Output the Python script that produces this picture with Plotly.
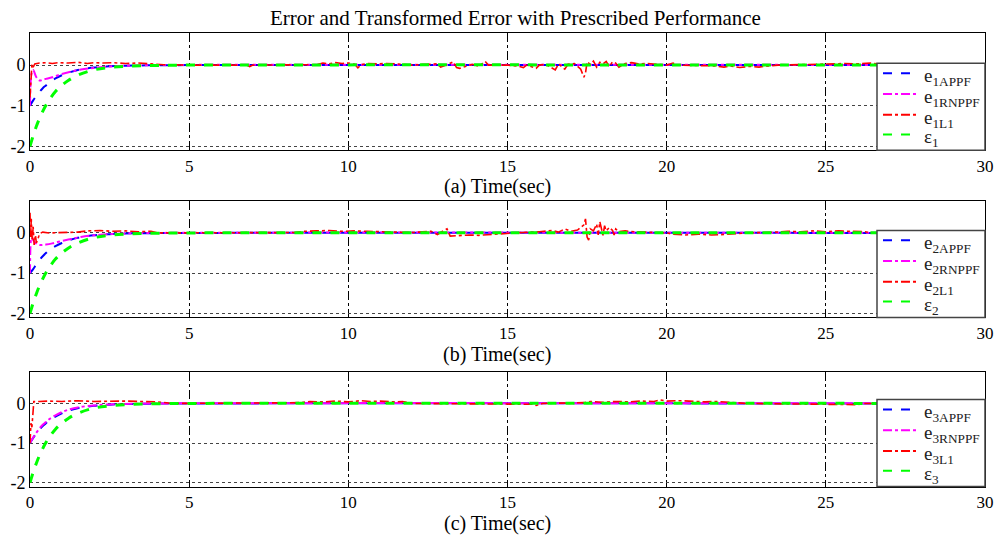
import plotly.graph_objects as go
from plotly.subplots import make_subplots

# ---- time grid for the smooth transients ----
T_SMOOTH = [0, 0.1, 0.2, 0.3, 0.4, 0.5, 0.6, 0.8, 1.0, 1.2, 1.5, 2.0, 2.5, 3.0, 3.5, 4.0, 5.0, 30.0]

# APPF errors e_iAPPF
E1_APPF = [-1, -0.87, -0.76, -0.66, -0.57, -0.50, -0.43, -0.33, -0.25, -0.19, -0.12, -0.06, -0.03, -0.015, -0.008, -0.004, 0, 0]
E2_APPF = [-1, -0.90, -0.78, -0.67, -0.58, -0.50, -0.43, -0.33, -0.25, -0.19, -0.12, -0.06, -0.03, -0.015, -0.008, -0.004, 0, 0]
E3_APPF = [-1, -0.87, -0.76, -0.66, -0.57, -0.50, -0.43, -0.33, -0.25, -0.19, -0.12, -0.06, -0.03, -0.015, -0.008, -0.004, 0, 0]

# transformed errors epsilon_i
EPS = [-2, -1.74, -1.51, -1.31, -1.14, -0.99, -0.86, -0.65, -0.50, -0.38, -0.25, -0.12, -0.06, -0.03, -0.015, -0.008, 0, 0]

# RNPPF errors e_iRNPPF
T_RN = [0, 0.05, 0.1, 0.2, 0.3, 0.4, 0.5, 0.7, 1.0, 1.3, 1.6, 2.0, 2.5, 3.0, 4.0, 30.0]
E1_RN = [-1, -0.2, -0.12, -0.3, -0.38, -0.36, -0.34, -0.30, -0.22, -0.16, -0.11, -0.07, -0.035, -0.015, 0, 0]
E2_RN = [-1, -0.1, -0.18, -0.27, -0.30, -0.30, -0.29, -0.26, -0.20, -0.15, -0.10, -0.06, -0.03, -0.012, 0, 0]
T_RN3 = [0, 0.1, 0.2, 0.3, 0.4, 0.5, 0.6, 0.8, 1.0, 1.2, 1.5, 2.0, 2.5, 3.0, 4.0, 30.0]
E3_RN = [-1, -0.86, -0.74, -0.63, -0.54, -0.47, -0.40, -0.30, -0.22, -0.16, -0.10, -0.05, -0.025, -0.012, 0, 0]

# L1 adaptive errors e_iL1
T_L1_1 = [0, 0.03, 0.06, 0.1, 0.15, 0.3, 0.5, 0.7, 0.9, 1.2, 1.5, 1.8, 2.0, 2.3, 2.6, 3.0, 3.4, 3.8, 4.2, 5.0,
          6.8, 6.9, 7.0, 9.0, 9.2, 9.4, 9.6, 9.8, 10.0, 10.2, 10.3, 10.4, 10.6, 10.9, 11.2, 11.5, 11.8, 12.0,
          12.8, 12.9, 13.1, 13.3, 13.4, 13.5, 13.7, 13.9, 14.1, 14.3, 14.4, 15.0, 15.3, 15.5, 15.6, 15.9, 16.0,
          16.2, 16.5, 16.6, 16.8, 16.9, 17.1, 17.3, 17.4, 17.45, 17.5, 17.6, 17.7, 17.8, 17.9, 18.0, 18.1, 18.2,
          18.3, 18.4, 18.5, 18.7, 18.9, 19.1, 19.4, 19.7, 20.0, 20.2, 20.3, 21.5, 21.8, 22.0, 22.3, 22.6, 22.9,
          23.2, 23.5, 25.3, 25.6, 26.0, 26.4, 26.7, 27.0, 30.0]
E1_L1 = [-0.8, -0.35, 0.02, -0.05, 0.03, 0.05, 0.06, 0.04, 0.06, 0.05, 0.07, 0.04, 0.06, 0.05, 0.06, 0.04, 0.05, 0.03, 0.01, 0.0,
         0.0, -0.04, 0.0, 0.01, 0.05, 0.03, 0.06, 0.04, 0.05, 0.02, -0.07, 0.01, 0.04, 0.03, 0.04, 0.03, 0.02, 0.0,
         0.03, -0.05, 0.01, 0.08, -0.06, -0.08, -0.03, 0.02, -0.03, 0.09, 0.0, 0.0, -0.02, -0.06, 0.0, -0.08, 0.0,
         0.02, -0.12, 0.03, -0.10, 0.02, 0.04, -0.10, -0.30, -0.20, 0.08, 0.02, 0.10, -0.05, 0.07, 0.03, 0.09, -0.04,
         0.08, 0.05, -0.05, 0.04, 0.06, 0.03, 0.04, 0.02, 0.0, 0.05, 0.0, -0.02, -0.05, -0.02, -0.06, -0.03, -0.05,
         -0.02, 0.0, 0.03, 0.04, 0.03, 0.05, 0.02, 0.0, 0.0]

T_L1_2 = [0, 0.02, 0.04, 0.07, 0.1, 0.13, 0.17, 0.2, 0.25, 0.3, 0.4, 0.6, 1.5, 1.8, 2.2, 2.6, 3.0, 3.4, 3.8, 4.0,
          8.3, 8.6, 9.0, 9.4, 9.8, 10.2, 10.6, 11.0, 11.4, 12.0, 12.6, 12.8, 13.0, 13.1, 13.2, 13.5, 13.8, 14.1,
          14.4, 14.8, 15.2, 16.0, 16.4, 16.6, 16.8, 17.0, 17.2, 17.4, 17.45, 17.5, 17.55, 17.6, 17.7, 17.8, 17.85,
          17.9, 17.95, 18.0, 18.05, 18.1, 18.2, 18.3, 18.35, 18.4, 18.5, 18.7, 19.0, 19.4, 20.0, 20.2, 20.6, 21.0,
          21.4, 21.8, 22.1, 22.5, 23.4, 23.8, 24.2, 24.6, 25.0, 25.4, 25.8, 26.2, 26.5, 30.0]
E2_L1 = [0.5, -0.1, 0.35, -0.2, 0.15, -0.3, -0.05, -0.25, -0.15, -0.02, 0.02, 0.0, 0.02, 0.05, 0.06, 0.04, 0.05, 0.03, 0.04, 0.0,
         0.01, 0.04, 0.05, 0.06, 0.04, 0.05, 0.04, 0.03, 0.02, 0.01, 0.04, -0.04, 0.06, 0.10, -0.08, -0.06, -0.05, -0.06,
         -0.04, -0.03, 0.0, 0.03, 0.06, 0.02, 0.10, 0.04, 0.07, 0.20, 0.35, -0.10, -0.18, 0.10, 0.05, 0.22, -0.05,
         0.28, 0.10, -0.06, 0.18, 0.05, 0.14, 0.06, -0.05, 0.10, 0.03, 0.05, 0.03, 0.02, 0.0, -0.03, -0.05, -0.03,
         -0.05, -0.04, -0.02, 0.0, 0.02, 0.04, 0.03, 0.05, 0.03, 0.05, 0.04, 0.03, 0.0, 0.0]

T_L1_3 = [0, 0.03, 0.06, 0.09, 0.12, 0.3, 0.6, 1.0, 1.5, 2.0, 2.5, 3.0, 3.5, 4.0, 4.5, 8.5, 8.8, 9.2, 9.6, 10.0,
          10.4, 10.7, 11.0, 11.4, 11.7, 12.0, 15.8, 15.9, 16.1, 17.4, 17.6, 18.0, 18.4, 18.8, 19.2, 19.6, 19.8, 20.0,
          20.4, 20.8, 21.2, 21.6, 22.0, 22.5, 26.0, 26.2, 30.0]
E3_L1 = [-1.0, -0.5, -0.6, -0.1, 0.05, 0.05, 0.06, 0.05, 0.07, 0.05, 0.06, 0.06, 0.05, 0.04, 0.0, 0.02, 0.05, 0.04, 0.06, 0.04,
         0.07, 0.05, 0.06, 0.04, 0.05, 0.0, -0.02, -0.05, 0.0, 0.02, 0.05, 0.03, 0.05, 0.04, 0.06, 0.05, 0.09, 0.06,
         0.07, 0.05, 0.04, 0.05, 0.02, 0.0, -0.03, 0.0, 0.0]

PANELS = [
    dict(idx="1", appf=E1_APPF, rn_t=T_RN, rn=E1_RN, l1_t=T_L1_1, l1=E1_L1, xlabel="(a) Time(sec)"),
    dict(idx="2", appf=E2_APPF, rn_t=T_RN, rn=E2_RN, l1_t=T_L1_2, l1=E2_L1, xlabel="(b) Time(sec)"),
    dict(idx="3", appf=E3_APPF, rn_t=T_RN3, rn=E3_RN, l1_t=T_L1_3, l1=E3_L1, xlabel="(c) Time(sec)"),
]

X_TICKS = [0, 5, 10, 15, 20, 25, 30]
Y_TICKS = [-2, -1, 0]
Y_TICKTEXT = ["-2", "-1", "0"]

SERIF = "Liberation Serif"
W, H = 997, 539
PLOT_L, PLOT_R = 30, 985
# panel boxes in pixels (top, bottom)
BOXES = [(33, 152), (203, 321), (376, 492)]

# line styles for the four methods
STYLES = {
    "APPF": dict(color="#0000FF", width=2, dash="dash"),
    "RNPPF": dict(color="#FF00FF", width=2, dash="dashdot"),
    "L1": dict(color="#FF0000", width=1.6, dash="dashdot"),
    "EPS": dict(color="#00FF00", width=3, dash="dash"),
}


def fx(px):
    """pixel column -> x-domain fraction"""
    return (px - PLOT_L) / (PLOT_R - PLOT_L)


fig = make_subplots(rows=3, cols=1)

for r, p in enumerate(PANELS, start=1):
    i = p["idx"]
    fig.add_trace(go.Scatter(x=T_SMOOTH, y=p["appf"], mode="lines", line_shape="spline",
                             line=STYLES["APPF"], name=f"e{i}APPF", showlegend=False), row=r, col=1)
    fig.add_trace(go.Scatter(x=p["rn_t"], y=p["rn"], mode="lines", line_shape="spline",
                             line=STYLES["RNPPF"], name=f"e{i}RNPPF", showlegend=False), row=r, col=1)
    fig.add_trace(go.Scatter(x=p["l1_t"], y=p["l1"], mode="lines",
                             line=STYLES["L1"], name=f"e{i}L1", showlegend=False), row=r, col=1)
    fig.add_trace(go.Scatter(x=T_SMOOTH, y=EPS, mode="lines", line_shape="spline",
                             line=STYLES["EPS"], name=f"eps{i}", showlegend=False), row=r, col=1)

    top, bot = BOXES[r - 1]
    fig.update_yaxes(domain=[1 - bot / H, 1 - top / H], range=[-2.1, 0.8],
                     tickvals=Y_TICKS, ticktext=Y_TICKTEXT, ticks="",
                     showgrid=True, gridcolor="#444444", griddash="dot", gridwidth=1,
                     zeroline=False, showline=True, linecolor="black", linewidth=1, mirror=True,
                     tickfont=dict(family=SERIF, size=18, color="black"), row=r, col=1)
    fig.update_xaxes(range=[0, 30], tickvals=X_TICKS, ticks="",
                     showgrid=True, gridcolor="black", griddash="dashdot", gridwidth=1,
                     zeroline=False, showline=True, linecolor="black", linewidth=1, mirror=True,
                     tickfont=dict(family=SERIF, size=17, color="black"),
                     row=r, col=1)

    # axis caption under each panel
    fig.add_annotation(text=p["xlabel"], xref="paper", yref="paper",
                       x=fx(497), y=1 - (bot + 37) / H, xanchor="center", yanchor="middle",
                       showarrow=False, font=dict(family=SERIF, size=20, color="black"))

    # boxed legend in the lower-right corner of each panel
    sfx = "" if r == 1 else str(r)
    xr, yr = f"x{sfx} domain", f"y{sfx} domain"
    ph = bot - top
    leg_top = bot - 88

    def fy(py):
        return (bot - py) / ph

    fig.add_shape(type="rect", xref=xr, yref=yr, x0=fx(877), x1=1, y0=0, y1=fy(leg_top),
                  fillcolor="white", line=dict(color="#444444", width=1.5), layer="above")
    entries = [
        ("APPF", f"e<sub>{i}APPF</sub>"),
        ("RNPPF", f"e<sub>{i}RNPPF</sub>"),
        ("L1", f"e<sub>{i}L1</sub>"),
        ("EPS", f"ε<sub>{i}</sub>"),
    ]
    offsets = [10, 31, 52, 72]
    for (key, label), off in zip(entries, offsets):
        yy = fy(leg_top + off)
        st = STYLES[key]
        fig.add_shape(type="line", xref=xr, yref=yr, x0=fx(883), x1=fx(919), y0=yy, y1=yy,
                      line=dict(color=st["color"], width=2, dash=st["dash"]), layer="above")
        fig.add_annotation(text=label, xref=xr, yref=yr, x=fx(922), y=fy(leg_top + off + 4),
                           xanchor="left", yanchor="middle", showarrow=False,
                           font=dict(family=SERIF, size=19, color="#222222"))

fig.update_layout(
    width=W, height=H,
    margin=dict(l=PLOT_L, r=W - PLOT_R, t=0, b=0),
    paper_bgcolor="white", plot_bgcolor="white",
    title=dict(text="Error and Transformed Error with Prescribed Performance",
               x=0.517, xanchor="center", y=1 - 18 / H, yanchor="middle",
               font=dict(family=SERIF, size=21, color="black")),
    showlegend=False,
)

fig.write_html("out.html")
